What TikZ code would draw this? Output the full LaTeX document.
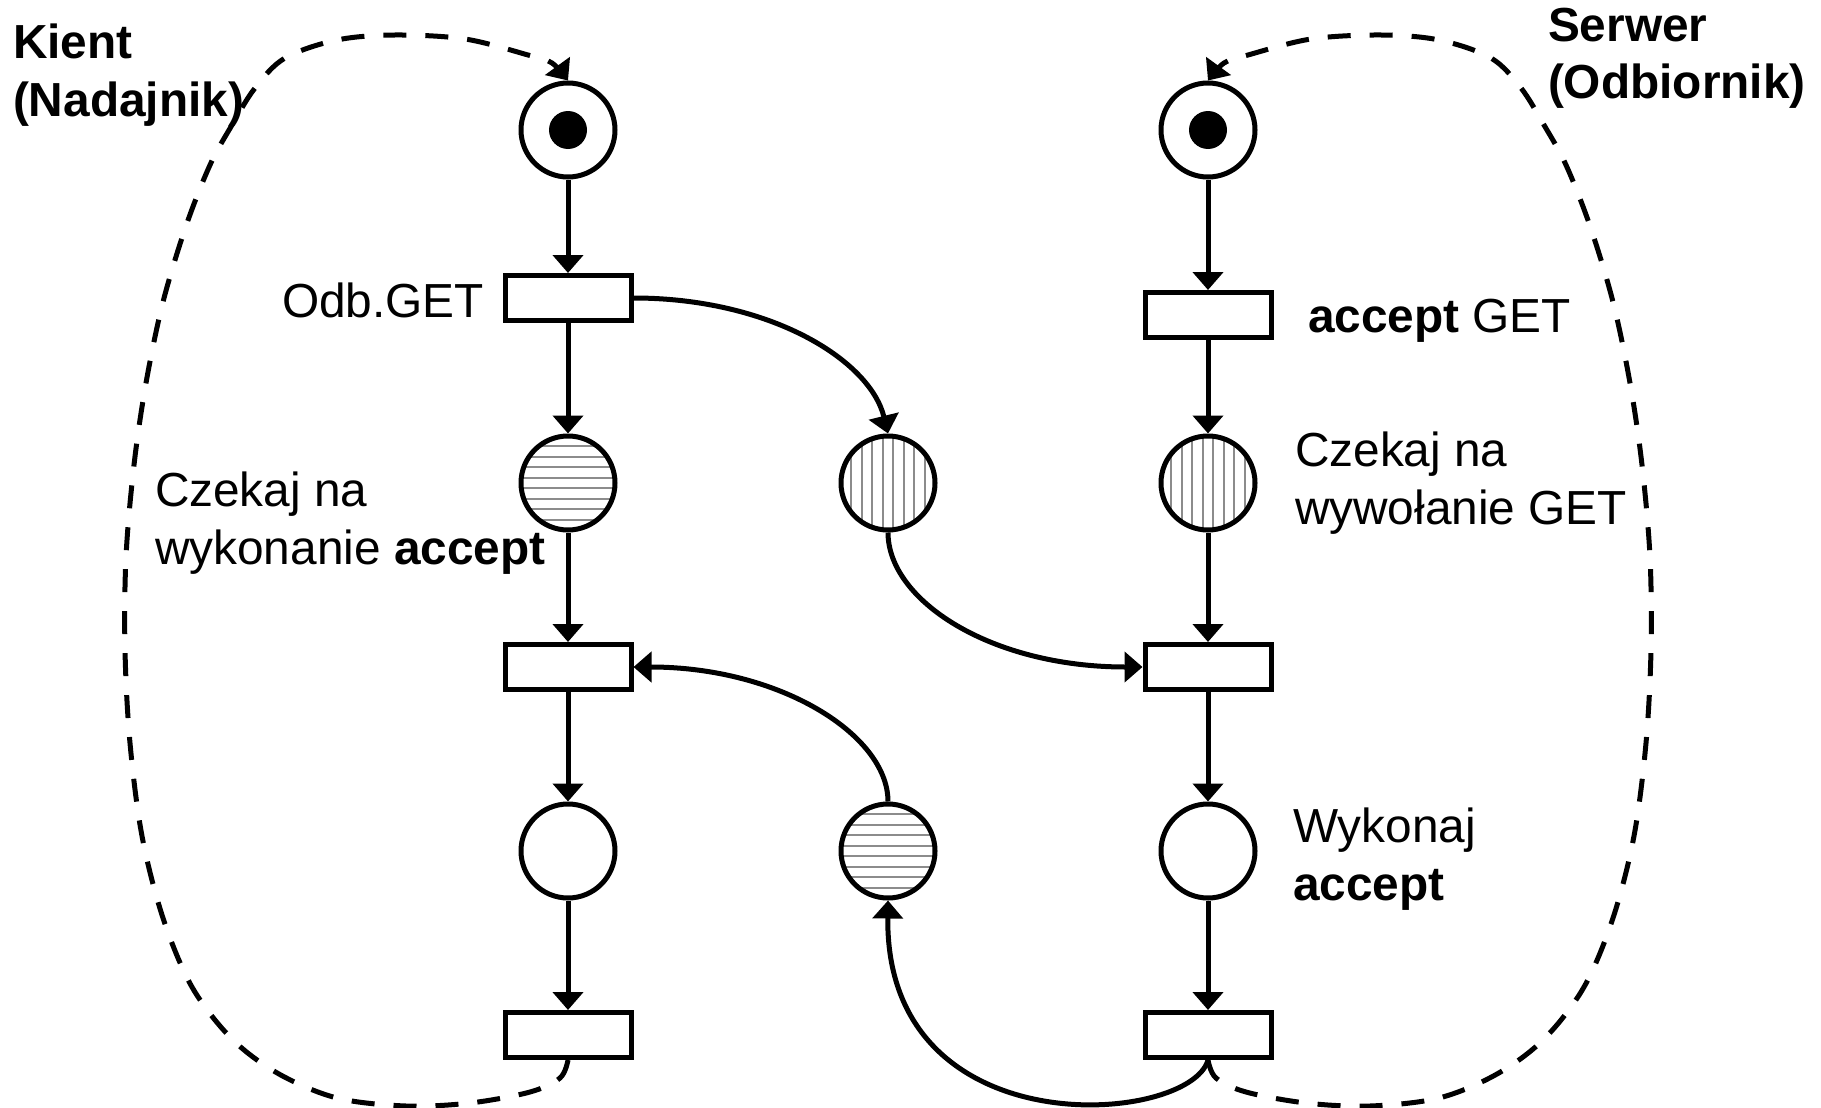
\documentclass[tikz,border=0pt]{standalone}
\usepackage{fontspec}
\setmainfont{Liberation Sans}
\usetikzlibrary{arrows.meta}

\begin{document}
\begin{tikzpicture}[x=1pt,y=-1pt,
  every node/.style={inner sep=0pt, outer sep=0pt},
  place/.style={circle, draw, line width=5pt, minimum size=94pt, fill=white, outer sep=2.5pt},
  trans/.style={rectangle, draw, line width=5pt, minimum width=126pt, minimum height=45pt, fill=white, outer sep=2.5pt},
  token/.style={circle, fill=black, minimum size=38pt},
  hatchcol/.style={draw=black!45, line width=2.2pt},
  hatchH/.style={path picture={
    \foreach \k in {-4.5,-3.5,...,4.5}
      \draw[hatchcol] ([yshift=\k*10.5pt]path picture bounding box.west) -- ([yshift=\k*10.5pt]path picture bounding box.east);}},
  hatchV/.style={path picture={
    \foreach \k in {-4.5,-3.5,...,4.5}
      \draw[hatchcol] ([xshift=\k*10.5pt]path picture bounding box.north) -- ([xshift=\k*10.5pt]path picture bounding box.south);}},
  arc/.style={line width=5pt, -{Triangle[length=18pt,width=30pt]}},
  loopline/.style={line width=5pt, dash pattern=on 23pt off 19pt, -{Triangle[length=18pt,width=30pt]}},
  lbl/.style={font=\fontsize{47.8}{57}\selectfont, anchor=base west},
  lblr/.style={font=\fontsize{47.8}{57}\selectfont, anchor=base east},
  title/.style={font=\fontsize{47.8}{56}\selectfont\bfseries, anchor=base west},
]
\useasboundingbox (0,0) rectangle (1821,1108);

% client (left) column
\node[place] (pL1) at (568,130) {};
\node[token] (tokL) at (pL1) {};
\node[trans] (tL1) at (568,298) {};
\node[place, hatchH] (pL2) at (568,483) {};
\node[trans] (tL2) at (568,667) {};
\node[place] (pL3) at (568,851) {};
\node[trans] (tL3) at (568,1035) {};

% server (right) column
\node[place] (pR1) at (1208,130) {};
\node[token] (tokR) at (pR1) {};
\node[trans] (tR1) at (1208,315) {};
\node[place, hatchV] (pR2) at (1208,483) {};
\node[trans] (tR2) at (1208,667) {};
\node[place] (pR3) at (1208,851) {};
\node[trans] (tR3) at (1208,1035) {};

% channel places
\node[place, hatchV] (pM1) at (888,483) {};
\node[place, hatchH] (pM2) at (888,851) {};

% straight arcs
\draw[arc] (pL1) -- (tL1);
\draw[arc] (tL1) -- (pL2);
\draw[arc] (pL2) -- (tL2);
\draw[arc] (tL2) -- (pL3);
\draw[arc] (pL3) -- (tL3);
\draw[arc] (pR1) -- (tR1);
\draw[arc] (tR1) -- (pR2);
\draw[arc] (pR2) -- (tR2);
\draw[arc] (tR2) -- (pR3);
\draw[arc] (pR3) -- (tR3);

% curved arcs through the channel
\draw[arc] (tL1.east) .. controls (770,298) and (870,360) .. (pM1.north);
\draw[arc] (pM1.south) .. controls (888,600) and (990,667) .. (tR2.west);
\draw[arc] (pM2.north) .. controls (888,735) and (780,667) .. (tL2.east);
\draw[arc] (tR3.south) .. controls (1190,1125) and (885,1150) .. (pM2.south);

% dashed return loops
\draw[loopline] plot[smooth, tension=0.55] coordinates {
  (tL3.south) (560,1078) (530,1092) (470,1103) (406,1106) (337,1098)
  (279,1074) (232,1039) (192,987) (163,918) (142,836) (130,743)
  (125,650) (126,557) (134,465) (146,383) (163,302) (186,226)
  (210,165) (232,125) (255,88) (285,58) (337,40) (395,35) (465,39)
  (528,55) (552,63) (pL1.north)};
\draw[loopline] plot[smooth, tension=0.55] coordinates {
  (tR3.south) (1216,1078) (1246,1092) (1306,1103) (1370,1106) (1439,1098)
  (1497,1074) (1544,1039) (1584,987) (1613,918) (1634,836) (1646,743)
  (1651,650) (1650,557) (1642,465) (1630,383) (1613,302) (1590,226)
  (1566,165) (1544,125) (1521,88) (1491,58) (1439,40) (1381,35) (1311,39)
  (1248,55) (1224,63) (pR1.north)};

% labels
\node[title] (kient) at (13,59) {Kient};
\node[title] (nadajnik) at (13,116) {(Nadajnik)};
\node[title] (serwer) at (1548,42) {Serwer};
\node[title] (odbiornik) at (1548,99) {(Odbiornik)};
\node[lblr] (odbget) at (484,317) {Odb.GET};
\node[lbl] (acceptget) at (1308,332) {\textbf{accept} GET};
\node[lbl] (czekL1) at (155,506) {Czekaj na};
\node[lbl] (czekL2) at (155,564) {wykonanie \textbf{accept}};
\node[lbl] (czekR1) at (1295,466) {Czekaj na};
\node[lbl] (czekR2) at (1295,524) {wywołanie GET};
\node[lbl] (wyk1) at (1293,842) {Wykonaj};
\node[lbl] (wyk2) at (1293,900) {\textbf{accept}};
\end{tikzpicture}
\end{document}
